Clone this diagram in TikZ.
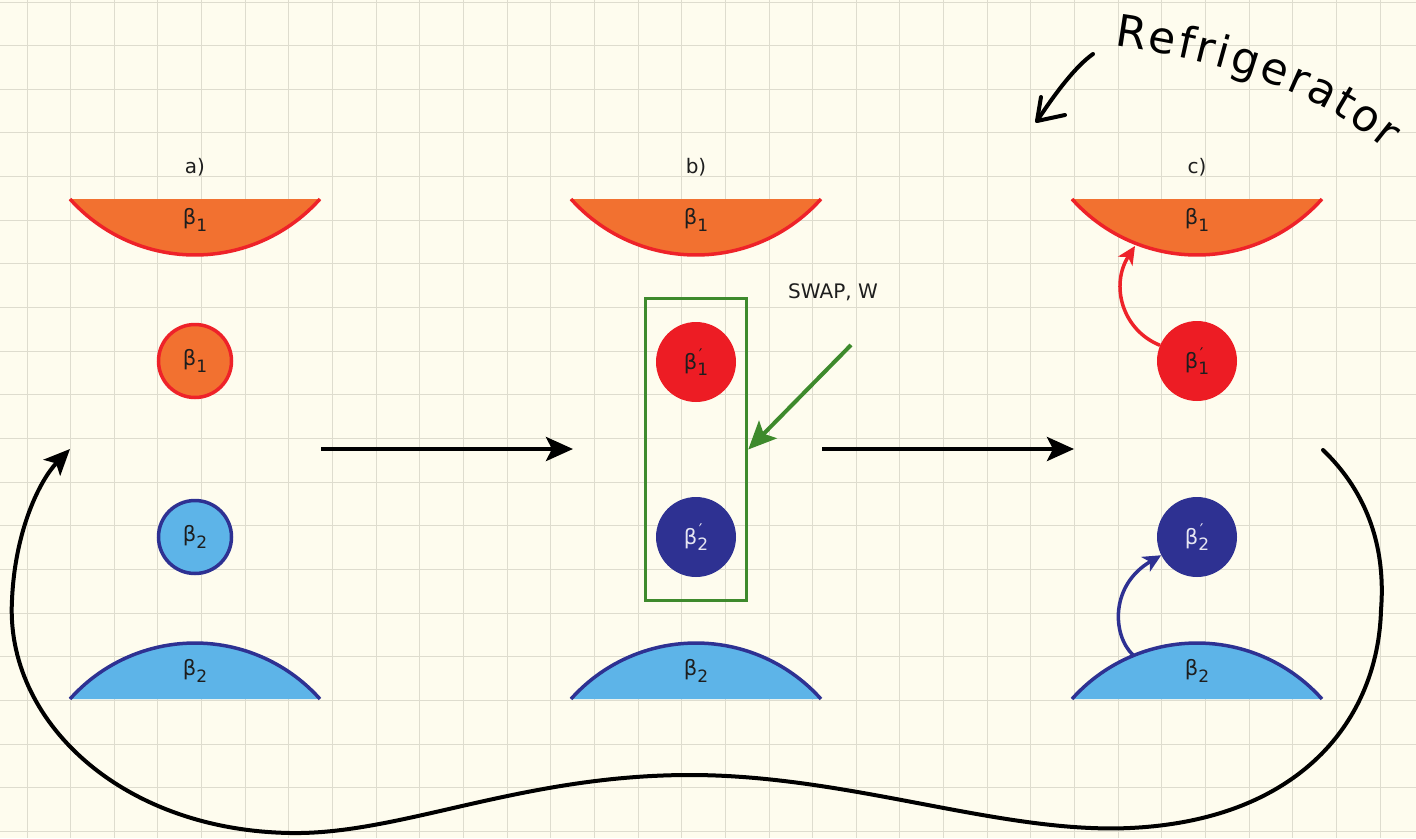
\documentclass[tikz,border=0pt]{standalone}
\usepackage{fontspec}
\setmainfont{DejaVu Sans}
\usetikzlibrary{arrows.meta,decorations.text}

\definecolor{paper}{HTML}{FEFCEE}
\definecolor{gridc}{HTML}{DEDCCE}
\definecolor{hotfill}{HTML}{F27130}
\definecolor{hotline}{HTML}{EE2229}
\definecolor{coldfill}{HTML}{5DB4E8}
\definecolor{coldline}{HTML}{2E3192}
\definecolor{hotq}{HTML}{ED1C24}
\definecolor{swapg}{HTML}{3E8A2C}
\definecolor{ink}{HTML}{1E1E1E}

% beta with a subscript, and with a primed subscript
\newcommand\bet[1]{β\raisebox{-0.3em}{\fontsize{17}{17}\selectfont #1}}
\newcommand\betp[1]{β\rlap{\raisebox{0.42em}{\fontsize{16}{16}\selectfont\kern1.5pt ′}}\raisebox{-0.3em}{\fontsize{17}{17}\selectfont #1}}

\tikzset{
  lbl/.style={font=\fontsize{20}{22}\selectfont, text=ink, inner sep=0pt},
  blbl/.style={font=\fontsize{21}{22}\selectfont, text=ink, inner sep=0pt},
  qbit/.style={circle, inner sep=0pt, font=\fontsize{21}{22}\selectfont},
  hotq0/.style={qbit, minimum size=73pt, fill=hotfill, draw=hotline, line width=3.5pt, text=ink},
  coldq0/.style={qbit, minimum size=73pt, fill=coldfill, draw=coldline, line width=3.5pt, text=ink},
  hotq1/.style={qbit, minimum size=80pt, fill=hotq, text=ink},
  coldq1/.style={qbit, minimum size=80pt, fill=coldline, text=white!88!coldline},
  bowlline/.style={line width=3.5pt},
  flow/.style={line width=4.5pt, -{Stealth[length=27pt, width=24pt, inset=6pt]}},
  hop/.style={line width=3.5pt, -{Stealth[length=18pt, width=17pt, inset=5pt]}},
  bigloop/.style={line width=4pt, -{Stealth[length=26pt, width=23pt, inset=6pt]}},
  hand/.style={line width=4pt, line cap=round, line join=round, draw=black},
  rule/.style={gridc, line width=1.5pt},
}

\begin{document}
\begin{tikzpicture}[x=1pt, y=-1pt]
  \useasboundingbox (0,0) rectangle (1416,838);
  \fill[paper] (0,0) rectangle (1416,838);

  % squared paper
  \foreach \i in {0,...,31}
    \draw[rule] ({int(27+43.65*\i)+0.5},0) -- ({int(27+43.65*\i)+0.5},838);
  \foreach \j in {0,...,19}
    \draw[rule] (0,{int(2+43.65*\j)+0.5}) -- (1416,{int(2+43.65*\j)+0.5});

  % three stages: hot bath on top, cold bath below
  \foreach \cx/\st in {195/a, 696/b, 1197/c} {
    \node[lbl] (lab\st) at (\cx,167) {\st)};
    \fill[hotfill] ({\cx-125},199) arc[start angle=138.26, end angle=41.74, radius=167.5] -- cycle;
    \draw[hotline, bowlline] ({\cx-125},199) arc[start angle=138.26, end angle=41.74, radius=167.5];
    \node[blbl] (hot\st) at (\cx,220) {\bet1};
    \fill[coldfill] ({\cx-125},699) arc[start angle=221.74, end angle=318.26, radius=167.5] -- cycle;
    \draw[coldline, bowlline] ({\cx-125},699) arc[start angle=221.74, end angle=318.26, radius=167.5];
    \node[blbl] (cold\st) at (\cx,671) {\bet2};
  }

  % qubits
  \node[hotq0]  (qa1) at (195,361) {\bet1};
  \node[coldq0] (qa2) at (195,537) {\bet2};
  \node[hotq1]  (qb1) at (696,362) {\betp1};
  \node[coldq1] (qb2) at (696,537) {\betp2};
  \node[hotq1]  (qc1) at (1197,361) {\betp1};
  \node[coldq1] (qc2) at (1197,537) {\betp2};

  % swap box and its label
  \node[draw=swapg, line width=3.5pt, minimum width=101pt, minimum height=302pt, inner sep=0pt] (swapbox) at (696,449.5) {};
  \node[lbl] (swaplbl) at (833,292) {SWAP, W};
  \coordinate (swapS) at (851,345);
  \draw[swapg, line width=4pt, -{Stealth[length=28pt, width=25pt, inset=6pt]}] (swapS) -- (swapbox.east);

  % stage arrows
  \coordinate (ab1) at (321,449);
  \coordinate (ab2) at (573,449);
  \coordinate (bc1) at (822,449);
  \coordinate (bc2) at (1074,449);
  \draw[flow] (ab1) -- (ab2);
  \draw[flow] (bc1) -- (bc2);

  % heat flow in stage c
  \coordinate (hotc-in) at (1135,246);
  \coordinate (coldc-out) at (1133,655);
  \draw[hotline, hop] (qc1.157) .. controls (1122,330) and (1110,285) .. (hotc-in);
  \draw[coldline, hop] (coldc-out) .. controls (1112,635) and (1110,585) .. (qc2.207);

  % cycle back to the start
  \coordinate (loopS) at (1323,450);
  \coordinate (loopE) at (70,449);
  \draw[bigloop, line cap=round] (loopS) .. controls (1375,500) and (1385,560) .. (1381,610)
    .. controls (1378,720) and (1300,820) .. (1130,828)
    .. controls (1000,834) and (850,775) .. (690,775)
    .. controls (520,775) and (400,835) .. (290,833)
    .. controls (120,830) and (5,720) .. (12,600)
    .. controls (15,530) and (40,480) .. (loopE);

  % handwritten note
  \path[decorate, decoration={text along path, text align={fit to path},
      text={|\fontsize{44}{44}\selectfont|Refrigerator}}]
    (1114,46) .. controls (1200,58) and (1305,82) .. (1386,150);
  \coordinate (noteS) at (1093,54);
  \coordinate (noteE) at (1037,121);
  \coordinate (noteL) at (1041,97);
  \coordinate (noteR) at (1065,115);
  \draw[hand] (noteS) .. controls (1076,66) and (1056,92) .. (noteE);
  \draw[hand] (noteL) -- (noteE) -- (noteR);
\end{tikzpicture}
\end{document}
